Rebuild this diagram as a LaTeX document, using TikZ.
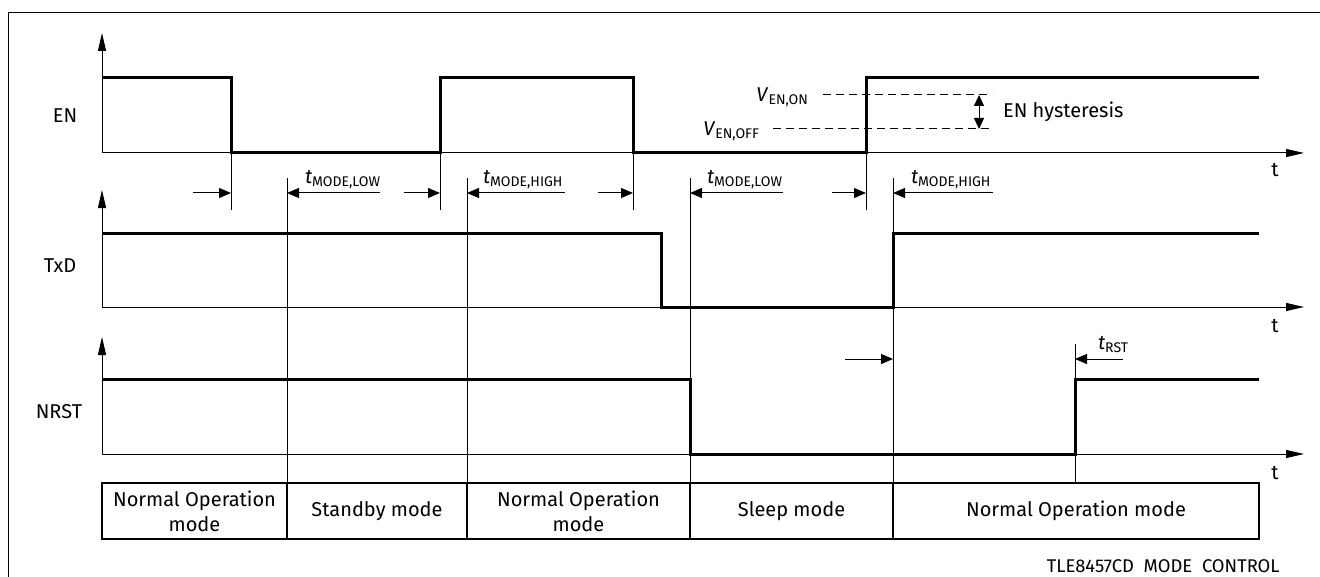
\documentclass[tikz,border=0pt]{standalone}
\usepackage{fontspec}
\setmainfont{Fira Sans}
\usetikzlibrary{arrows.meta}
\newcommand{\tsym}[2]{\textit{#1}\textsubscript{#2}}

\begin{document}
\begin{tikzpicture}[x=0.5pt, y=-0.5pt, font=\fontsize{10}{12.5}\selectfont,
  sig/.style={line width=1.5pt},
  thin/.style={line width=0.5pt},
  axis/.style={line width=0.5pt, -{Triangle[length=9pt,width=4pt]}},
  tarrow/.style={line width=0.5pt, -{Triangle[length=6pt,width=5pt]}},
  modebox/.style={draw, line width=1.3pt, minimum height=28pt, align=center, inner sep=0pt}]

\useasboundingbox (0,0) rectangle (1320,577);
\draw[thin] (1320,13) -- (8,13) -- (8,577);

% EN
\draw[axis] (102,153) -- (102,33);
\draw[axis] (102,153) -- (1304,153);
\draw[sig] (102,78) -- (231,78) -- (231,153) -- (440,153) -- (440,78) -- (633,78) -- (633,153) -- (866,153) -- (866,78) -- (1259,78);
\node (en) at (65,116) {EN};
\node (ten) at (1275,170) {t};

% hysteresis
\draw[thin, dash pattern=on 4pt off 2.5pt] (823,95) -- (992,95);
\draw[thin, dash pattern=on 4pt off 2.5pt] (773,129) -- (992,129);
\node[anchor=east] (venon) at (816,97) {\tsym{V}{EN,ON}};
\node[anchor=east] (venoff) at (767,131) {\tsym{V}{EN,OFF}};
\draw[thin, {Triangle[length=5.5pt,width=5pt]}-{Triangle[length=5.5pt,width=5pt]}] (979,95) -- (979,129);
\node[anchor=west] (hyst) at (996,112) {EN hysteresis};

% edges of EN and mode changes
\foreach \x in {231,440,633,866} \draw[thin] (\x,153) -- (\x,210);
\foreach \x in {287,467,690,893} \draw[thin] (\x,178) -- (\x,483);

\draw[tarrow] (193,193) -- (231,193);
\draw[tarrow] (404,193) -- (440,193);
\draw[tarrow] (598,193) -- (633,193);
\draw[tarrow] (832,193) -- (866,193);
\draw[tarrow] (380,193) -- (287,193);
\draw[tarrow] (565,193) -- (467,193);
\draw[tarrow] (783,193) -- (690,193);
\draw[tarrow] (993,193) -- (893,193);

\node[anchor=west] (tlow1) at (298,180) {\tsym{t}{MODE,LOW}};
\node[anchor=west] (thigh1) at (476,180) {\tsym{t}{MODE,HIGH}};
\node[anchor=west] (tlow2) at (700,180) {\tsym{t}{MODE,LOW}};
\node[anchor=west] (thigh2) at (904,180) {\tsym{t}{MODE,HIGH}};

% TxD
\draw[axis] (102,307) -- (102,190);
\draw[axis] (102,307) -- (1304,307);
\draw[sig] (102,233) -- (661,233) -- (661,307) -- (893,307) -- (893,233) -- (1259,233);
\node (txd) at (60,266) {TxD};
\node (ttxd) at (1275,326) {t};

% NRST
\draw[axis] (102,454) -- (102,337);
\draw[axis] (102,454) -- (1304,454);
\draw[sig] (102,379) -- (690,379) -- (690,454) -- (1075,454) -- (1075,379) -- (1259,379);
\node (nrst) at (59,412) {NRST};
\node (tnrst) at (1275,473) {t};
\draw[thin] (1075,344) -- (1075,483);
\draw[tarrow] (845,359) -- (893,359);
\draw[tarrow] (1123,359) -- (1075,359);
\node[anchor=west] (trst) at (1091,345) {\tsym{t}{RST}};

% modes
\node[modebox, minimum width=92.5pt] (m1) at (194.5,511) {Normal Operation\\mode};
\node[modebox, minimum width=90pt] (m2) at (377,511) {Standby mode};
\node[modebox, minimum width=111.5pt] (m3) at (578.5,511) {Normal Operation\\mode};
\node[modebox, minimum width=101.5pt] (m4) at (791.5,511) {Sleep mode};
\node[modebox, minimum width=183pt] (m5) at (1076,511) {Normal Operation mode};

\node[anchor=east, inner sep=0.5pt, font=\fontsize{9.2}{11}\selectfont] (cap) at (1281,566) {TLE8457CD\ \ MODE\ \ CONTROL};

\end{tikzpicture}
\end{document}
